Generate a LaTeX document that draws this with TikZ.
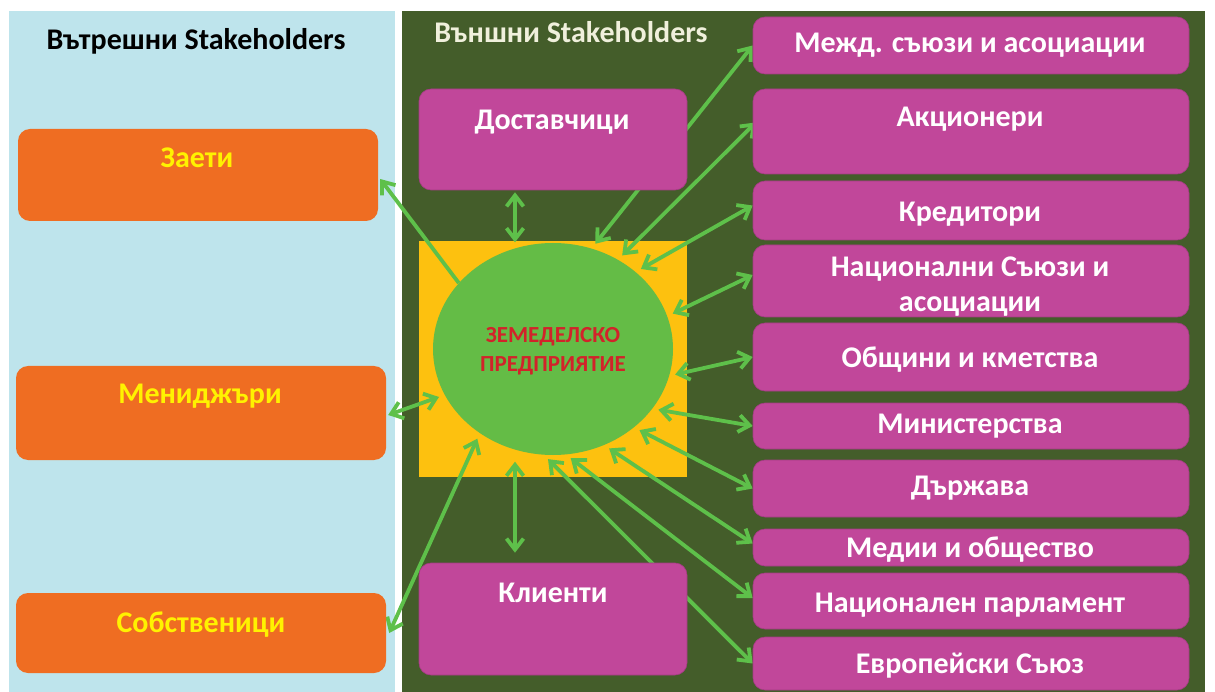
\documentclass[tikz,border=0pt]{standalone}
\usepackage{fontspec}
\setmainfont{Carlito}
\usetikzlibrary{shapes.geometric,arrows.meta,calc}
\definecolor{panelblue}{HTML}{BEE4EC}
\definecolor{panelgreen}{HTML}{445D2A}
\definecolor{boxorange}{HTML}{EF6D22}
\definecolor{boxmagenta}{HTML}{C1479A}
\definecolor{coreyellow}{HTML}{FDC10F}
\definecolor{coregreen}{HTML}{64BC46}
\definecolor{linkgreen}{HTML}{5EC04A}
\definecolor{textyellow}{HTML}{FFF200}
\definecolor{textred}{HTML}{D2232A}
\definecolor{titlecream}{HTML}{F0F0DC}
\pgfdeclarelayer{back}
\pgfdeclarelayer{links}
\pgfsetlayers{back,links,main}
\begin{document}
\begin{tikzpicture}[x=1pt,y=-1pt,
  obox/.style={fill=boxorange, rounded corners=12pt, inner sep=0pt, minimum width=370pt},
  mbox/.style={fill=boxmagenta, draw=boxmagenta!85!black, line width=0.6pt, rounded corners=12pt, inner sep=0pt},
  rbox/.style={mbox, minimum width=436pt},
  otext/.style={anchor=base, font=\bfseries\fontsize{30}{34}\selectfont, text=textyellow, inner sep=0pt},
  wtext/.style={anchor=base, font=\bfseries\fontsize{30}{34}\selectfont, text=white, inner sep=0pt, align=center},
  ctext/.style={anchor=base, font=\bfseries\fontsize{23}{26}\selectfont, text=textred, inner sep=0pt},
  ttext/.style={anchor=base, font=\bfseries\fontsize{30}{34}\selectfont, inner sep=0pt},
  barb/.tip={Straight Barb[length=11pt,width=17pt]},
  link/.style={draw=linkgreen, line width=3.8pt, arrows={barb-barb}},
  oneway/.style={draw=linkgreen, line width=3.8pt, arrows={-barb}},
  fromcore/.style={shorten <=6pt}]

\useasboundingbox (0,0) rectangle (1215,692);

% internal stakeholders
\node[obox, minimum width=360pt, minimum height=92pt] (zaeti) at (198,175) {};
\node[obox, minimum height=94pt] (men) at (201,413) {};
\node[obox, minimum height=80pt] (sob) at (201,633) {};
\node[otext] (zaeti-t) at (197,168) {Заети};
\node[otext] (men-t) at (200,403) {Мениджъри};
\node[otext] (sob-t) at (201,632) {Собственици};

% enterprise core
\node[ellipse, fill=coregreen, minimum width=240pt, minimum height=212pt, inner sep=0pt] (ent) at (553,349) {};
\node[ctext] (ent-t1) at (553,343) {ЗЕМЕДЕЛСКО};
\node[ctext] (ent-t2) at (553,371) {ПРЕДПРИЯТИЕ};

% suppliers and clients
\node[mbox, minimum width=268pt, minimum height=101pt] (dost) at (553,139.5) {};
\node[mbox, minimum width=268pt, minimum height=112pt] (kli) at (553,619) {};
\node[wtext] (dost-t) at (552,130) {Доставчици};
\node[wtext] (kli-t) at (553,602) {Клиенти};

% external institutions
\node[rbox, minimum height=57pt] (mezhd) at (971,45.5) {};
\node[rbox, minimum height=85pt] (akc) at (971,131.5) {};
\node[rbox, minimum height=59pt] (kred) at (971,210.5) {};
\node[rbox, minimum height=72pt] (nac) at (971,281) {};
\node[rbox, minimum height=68pt] (obsh) at (971,357) {};
\node[rbox, minimum height=46pt] (mini) at (971,426) {};
\node[rbox, minimum height=57pt] (darzh) at (971,488.5) {};
\node[rbox, minimum height=37pt] (medii) at (971,547.5) {};
\node[rbox, minimum height=56pt] (parl) at (971,601) {};
\node[rbox, minimum height=53pt] (es) at (971,663.5) {};

\node[wtext] (mezhd-t) at (970,53) {Межд. съюзи и асоциации};
\node[wtext] (akc-t) at (970,127) {Акционери};
\node[wtext] (kred-t) at (970,222) {Кредитори};
\node[wtext] (nac-t1) at (970,277) {Национални Съюзи и};
\node[wtext] (nac-t2) at (970,312) {асоциации};
\node[wtext] (obsh-t) at (970,367) {Общини и кметства};
\node[wtext] (mini-t) at (970,433) {Министерства};
\node[wtext] (darzh-t) at (970,495) {Държава};
\node[wtext] (medii-t) at (970,557) {Медии и общество};
\node[wtext] (parl-t) at (970,612) {Национален парламент};
\node[wtext] (es-t) at (970,673) {Европейски Съюз};

\begin{pgfonlayer}{back}
  \fill[white] (0,0) rectangle (1215,692);
  \fill[panelblue] (9,11) rectangle (395,692);
  \fill[panelgreen] (402,11) rectangle (1205,692);
  \fill[coreyellow] (419,241) rectangle (687,477);
  \node[ttext, text=black] (intitle) at (196,50) {Вътрешни Stakeholders};
  \node[ttext, text=titlecream] (extitle) at (571,43) {Външни Stakeholders};
\end{pgfonlayer}

\begin{pgfonlayer}{links}
  % internal side
  \draw[oneway] (ent.145) -- ($(zaeti.east)+(2,4)$);
  \draw[link, fromcore] (ent.203) -- ($(men.east)+(2,2)$);
  \draw[link, fromcore] (ent.229) -- ($(sob.east)+(3,0)$);
  % suppliers and clients
  \draw[link] ($(dost.south)+(-38,2)$) -- ($(dost.south)+(-38,52)$);
  \draw[link] ($(kli.north)+(-38,-10)$) -- ($(kli.north)+(-38,-101)$);
  % external institutions
  \draw[link, fromcore] (ent.69) -- (mezhd.west);
  \draw[link, fromcore] (ent.54) -- ($(akc.west)+(3,-9)$);
  \draw[link, fromcore] (ent.43) -- ($(kred.west)+(0,-5)$);
  \draw[link, fromcore] (ent.16) -- ($(nac.west)+(0,-6)$);
  \draw[link, fromcore] (ent.-13) -- (obsh.west);
  \draw[link, fromcore] (ent.-31) -- (mini.west);
  \draw[link, fromcore] (ent.-44) -- (darzh.west);
  \draw[link, fromcore] (ent.-62) -- ($(medii.west)+(0,-4)$);
  \draw[link, fromcore] (ent.-83) -- ($(parl.west)+(0,-3)$);
  \draw[link, fromcore] (ent.-95) -- (es.west);
\end{pgfonlayer}
\end{tikzpicture}
\end{document}
